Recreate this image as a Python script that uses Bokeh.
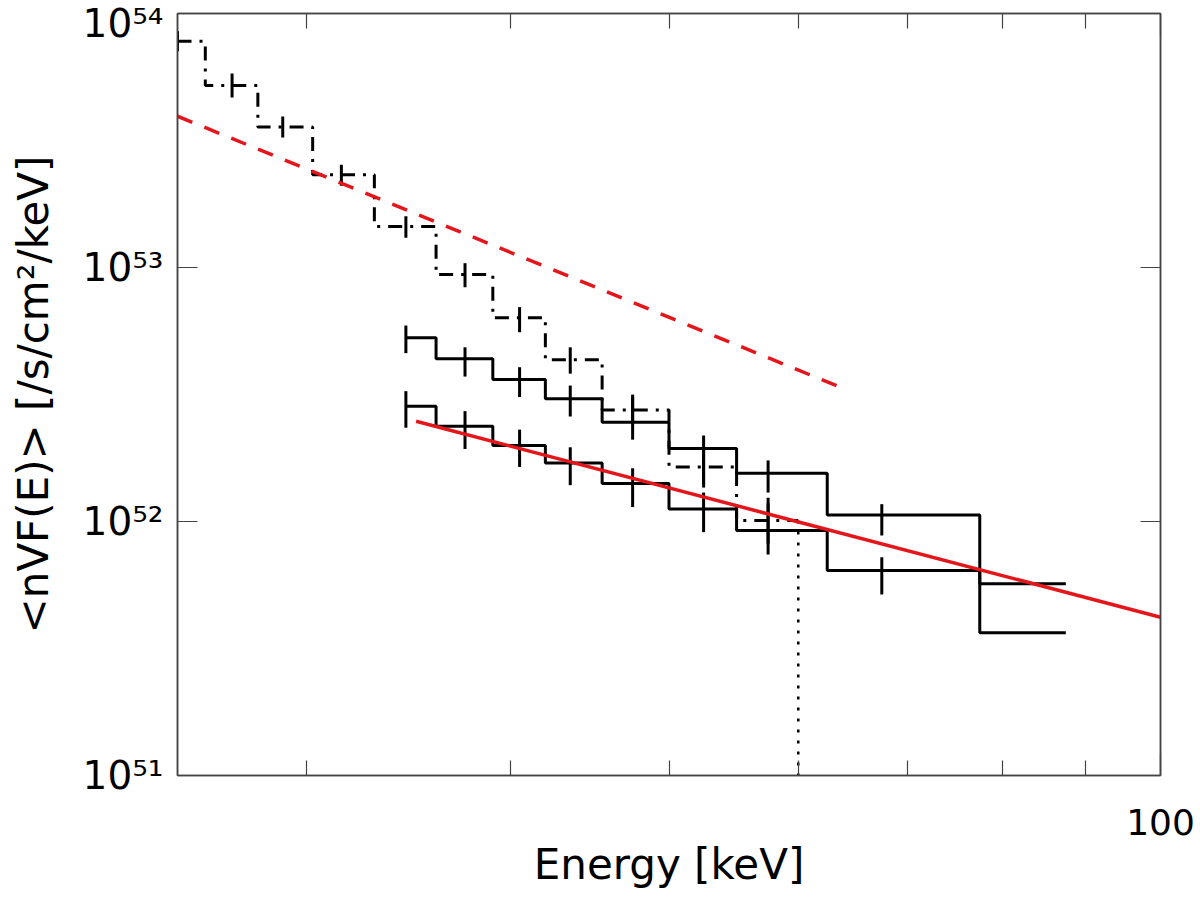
# import packages
import numpy as np

from bokeh.plotting import figure
from bokeh.models import CustomJSTickFormatter, FixedTicker, LogAxis, PrintfTickFormatter
from bokeh.embed import file_html
from bokeh.resources import INLINE

# Spectrum data: bin centres [keV] and <nVF(E)> [/s/cm^2/keV]
# dash-dot histogram (last bin is empty)
dd_energy = [25, 27, 29, 31.5, 34.5, 37.5, 40.5, 43.5, 47.5, 52.5, 57.5, 62.5]
dd_flux = [7.78e53, 5.21e53, 3.57e53, 2.32e53, 1.45e53, 9.38e52, 6.34e52, 4.33e52, 2.75e52, 1.64e52, 1.01e52, 0]
dd_hi = [8.52e53, 5.81e53, 3.93e53, 2.54e53, 1.59e53, 1.04e53, 6.98e52, 4.85e52, 3.16e52, 1.96e52, 1.24e52, 0]
dd_lo = [7.10e53, 4.67e53, 3.25e53, 2.10e53, 1.31e53, 8.36e52, 5.56e52, 3.82e52, 2.41e52, 1.36e52, 8.19e51, 0]

# solid histograms
sol_energy = [34.5, 37.5, 40.5, 43.5, 47.5, 52.5, 57.5, 67.5, 87.5]
solA_flux = [5.29e52, 4.37e52, 3.62e52, 3.04e52, 2.46e52, 1.94e52, 1.55e52, 1.06e52, 5.69e51]
solA_hi = [5.91e52, 4.85e52, 4.05e52, 3.43e52, 3.09e52, 2.18e52, 1.74e52, 1.17e52, 5.69e51]
solA_lo = [4.60e52, 3.72e52, 3.09e52, 2.59e52, 2.10e52, 1.40e52, 1.30e52, 8.81e51, 5.69e51]
solB_flux = [2.84e52, 2.37e52, 1.99e52, 1.70e52, 1.41e52, 1.12e52, 9.22e51, 6.41e51, 3.65e51]
solB_hi = [3.26e52, 2.72e52, 2.30e52, 1.96e52, 1.62e52, 1.30e52, 1.18e52, 7.23e51, 3.65e51]
solB_lo = [2.34e52, 1.93e52, 1.64e52, 1.39e52, 1.14e52, 9.08e51, 7.41e51, 5.16e51, 3.65e51]

# power-law fits (end points)
fit_energy = [35, 100]
fit_flux = [2.48e52, 4.20e51]
fit2_energy = [25, 64]
fit2_flux = [3.94e53, 3.33e52]

# axes
x_lim = (25, 100)
y_lim = (1e51, 1e54)
x_ticks = [100]
x_minor = [30, 40, 50, 60, 70, 80, 90]
y_ticks = [1e51, 1e52, 1e53, 1e54]

FONT = "DejaVu Sans"
AX = "#444444"
RED = "#e5161b"


def steps(e, f, floor):
    # IDL psym=10 style histogram: steps at midpoints, half bins at the ends
    e = np.asarray(e, float)
    f = np.where(np.asarray(f, float) > 0, f, floor)
    mid = (e[1:] + e[:-1]) / 2
    xs = np.concatenate([[e[0]], np.repeat(mid, 2), [e[-1]]])
    ys = np.repeat(f, 2)
    return xs, ys


p = figure(width=1196, height=900, x_axis_type="log", y_axis_type="log",
           x_range=x_lim, y_range=y_lim, output_backend="svg", toolbar_location=None,
           min_border_left=177, min_border_right=36, min_border_top=13, min_border_bottom=125)
p.xgrid.grid_line_color = None
p.ygrid.grid_line_color = None
p.outline_line_color = AX
p.outline_line_width = 1.5
p.background_fill_color = "white"

bottom_ax = p.below[0]
left_ax = p.left[0]

# mirror axes on top and right
top_ax = LogAxis()
right_ax = LogAxis()
p.add_layout(top_ax, "above")
p.add_layout(right_ax, "right")

for ax in [bottom_ax, top_ax]:
    ax.ticker = FixedTicker(ticks=x_ticks, minor_ticks=x_minor)
    ax.major_tick_in = 22
    ax.major_tick_out = 0
    ax.minor_tick_in = 15
    ax.minor_tick_out = 0
for ax in [left_ax, right_ax]:
    ax.ticker = FixedTicker(ticks=y_ticks, minor_ticks=[])
    ax.major_tick_in = 20
    ax.major_tick_out = 0
    ax.minor_tick_in = 0
    ax.minor_tick_out = 0
for ax in [bottom_ax, top_ax, left_ax, right_ax]:
    ax.axis_line_color = AX
    ax.axis_line_width = 1.5
    ax.major_tick_line_color = AX
    ax.minor_tick_line_color = AX
    ax.major_tick_line_width = 1.2
    ax.minor_tick_line_width = 1.2
# mirror axes carry no labels
for ax in [top_ax, right_ax]:
    ax.formatter = CustomJSTickFormatter(code="return ''")
    ax.major_label_text_font_size = "1px"
    ax.major_label_standoff = 0

bottom_ax.formatter = PrintfTickFormatter(format="%d")
bottom_ax.major_label_text_font = FONT
bottom_ax.major_label_text_font_size = "36px"
bottom_ax.major_label_text_color = "black"
bottom_ax.major_label_standoff = 33
bottom_ax.axis_label = "Energy [keV]"
bottom_ax.axis_label_standoff = 2

# y tick labels as 10 with a superscript exponent
left_ax.formatter = CustomJSTickFormatter(code="""
const sup = {'0':'\u2070','1':'\u00b9','2':'\u00b2','3':'\u00b3','4':'\u2074',
             '5':'\u2075','6':'\u2076','7':'\u2077','8':'\u2078','9':'\u2079'};
const e = Math.round(Math.log10(tick)).toString();
return '10' + e.split('').map(c => sup[c]).join('');
""")
left_ax.major_label_text_font = FONT
left_ax.major_label_text_font_size = "39px"
left_ax.major_label_text_color = "black"
left_ax.major_label_standoff = 14
left_ax.axis_label = "<nVF(E)> [/s/cm²/keV]"
left_ax.axis_label_standoff = 22
for ax in [bottom_ax, left_ax]:
    ax.axis_label_text_font = FONT
    ax.axis_label_text_font_size = "42px"
    ax.axis_label_text_font_style = "normal"
    ax.axis_label_text_color = "black"

floor = y_lim[0] / 10

# dash-dot histogram, the drop into the empty bin is dotted
xs, ys = steps(dd_energy, dd_flux, floor)
p.line(xs[:-2], ys[:-2], line_color="black", line_width=3, line_dash="14 8 3 8")
p.line(xs[-3:-1], ys[-3:-1], line_color="black", line_width=2.5, line_dash="3 8")
dd_ok = [i for i in range(len(dd_flux)) if dd_flux[i] > 0]
p.segment(x0=[dd_energy[i] for i in dd_ok], y0=[dd_lo[i] for i in dd_ok],
          x1=[dd_energy[i] for i in dd_ok], y1=[dd_hi[i] for i in dd_ok],
          line_color="black", line_width=3)

# solid histograms with error bars
for fl, hi, lo in [(solA_flux, solA_hi, solA_lo), (solB_flux, solB_hi, solB_lo)]:
    xs, ys = steps(sol_energy, fl, floor)
    p.line(xs, ys, line_color="black", line_width=3)
    p.segment(x0=sol_energy, y0=lo, x1=sol_energy, y1=hi, line_color="black", line_width=3)

# fits
p.line(fit_energy, fit_flux, line_color=RED, line_width=3.5)
p.line(fit2_energy, fit2_flux, line_color=RED, line_width=3.5, line_dash="16 13")

open("out.html", "w").write(file_html(p, INLINE))
